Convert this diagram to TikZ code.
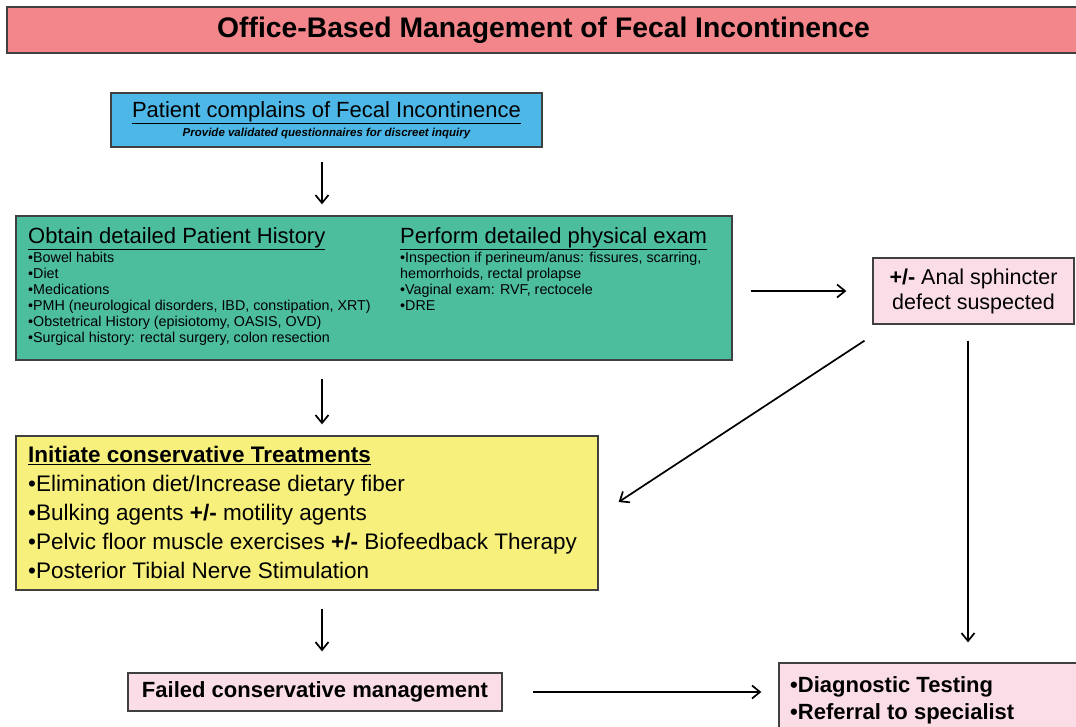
\documentclass[tikz,border=0pt]{standalone}
\usepackage{fontspec}
\setmainfont{Liberation Sans}
\setsansfont{Liberation Sans}
\usetikzlibrary{arrows, arrows.meta}
\usetikzlibrary{calc}

\definecolor{titlered}{RGB}{242,134,138}
\definecolor{boxblue}{RGB}{77,184,232}
\definecolor{boxgreen}{RGB}{76,190,158}
\definecolor{boxyellow}{RGB}{247,240,124}
\definecolor{boxpink}{RGB}{250,221,230}

\begin{document}
\begin{tikzpicture}[x=1pt, y=-1pt,
    box/.style={draw=black!75, line width=1.3pt, inner sep=0pt},
    txt/.style={inner sep=0pt, anchor=north west, align=left},
    arr/.style={-{Straight Barb[length=8pt,width=13pt]}, line width=1.7pt}]
      \useasboundingbox (0,0) rectangle (1076,726);

      \node[box, fill=titlered, minimum width=1073pt, minimum height=46pt,
            font=\fontsize{28.3}{30}\selectfont\bfseries] (title) at (543.5,30)
        {Office-Based Management of Fecal Incontinence};

      \node[box, fill=boxblue, minimum width=431pt, minimum height=54pt, align=center,
            font=\fontsize{11.5}{19}\selectfont] (blue) at (326.5,120)
        {{\fontsize{22}{24}\selectfont\underline{Patient complains of Fecal Incontinence}}\\
         {\bfseries\itshape Provide validated questionnaires for discreet inquiry}};

      \node[box, fill=boxgreen, minimum width=716pt, minimum height=144pt] (green) at (374,288) {};
      \node[txt, font=\fontsize{14.3}{16}\selectfont] (hist) at (28,227)
        {{\fontsize{22}{24}\selectfont\underline{Obtain detailed Patient History}}\\[1pt]
         •Bowel habits\\
         •Diet\\
         •Medications\\
         •PMH (neurological disorders, IBD, constipation, XRT)\\
         •Obstetrical History (episiotomy, OASIS, OVD)\\
         •Surgical history: rectal surgery, colon resection};
      \node[txt, font=\fontsize{14.3}{16}\selectfont] (exam) at (400,227)
        {{\fontsize{22}{24}\selectfont\underline{Perform detailed physical exam}}\\[1pt]
         •Inspection if perineum/anus: fissures, scarring,\\
         hemorrhoids, rectal prolapse\\
         •Vaginal exam: RVF, rectocele\\
         •DRE};

      \node[box, fill=boxpink, minimum width=201pt, minimum height=66pt, align=center,
            font=\fontsize{21.5}{25}\selectfont] (defect) at (973.5,291)
        {\textbf{+/-} Anal sphincter\\defect suspected};

      \node[box, fill=boxyellow, minimum width=582pt, minimum height=154pt] (yellow) at (307,513) {};
      \node[txt, font=\fontsize{22.5}{29}\selectfont] (treat) at (28,446)
        {{\bfseries\underline{Initiate conservative Treatments}}\\
         •Elimination diet/Increase dietary fiber\\
         •Bulking agents \textbf{+/-} motility agents\\
         •Pelvic floor muscle exercises \textbf{+/-} Biofeedback Therapy\\
         •Posterior Tibial Nerve Stimulation};

      \node[box, fill=boxpink, minimum width=374pt, minimum height=38pt,
            font=\fontsize{22}{24}\selectfont\bfseries] (failed) at (315,692)
        {Failed conservative management};

      \node[box, fill=boxpink, minimum width=301pt, minimum height=87pt] (diag) at (929.5,706.5) {};
      \node[txt, font=\fontsize{22}{27}\selectfont\bfseries] (diagtxt) at (790,676)
        {•Diagnostic Testing\\
         •Referral to specialist};

      \draw[arr] ([shift={(-4.5,14)}]blue.south) -- ([shift={(-52,-11)}]green.north);
      \draw[arr] ([shift={(18,3)}]green.east) -- ([shift={(-26,0)}]defect.west);
      \draw[arr] ([shift={(-52,18)}]green.south) -- ([shift={(15,-11)}]yellow.north);
      \draw[arr] ([shift={(-109,16)}]defect.south) -- ([shift={(20,-11)}]yellow.east);
      \draw[arr] ([shift={(-5.5,16)}]defect.south) -- ([shift={(38.5,-20)}]diag.north);
      \draw[arr] ([shift={(15,18)}]yellow.south) -- ([shift={(7,-21)}]failed.north);
      \draw[arr] ([shift={(30,0)}]failed.east) -- ([shift={(-17,-14.5)}]diag.west);
\end{tikzpicture}
\end{document}
